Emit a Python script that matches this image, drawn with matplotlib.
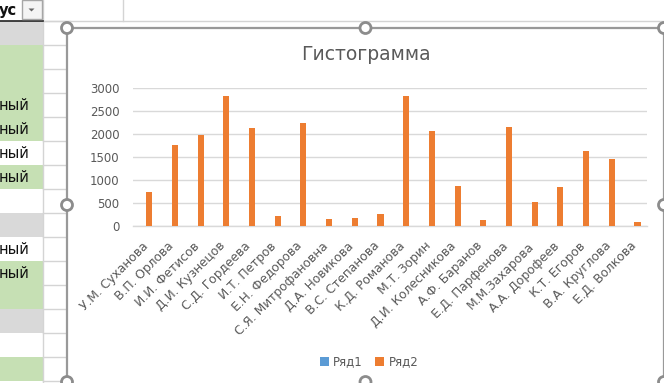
import numpy as np
import matplotlib
matplotlib.use('Agg')
import matplotlib.pyplot as plt
from matplotlib.patches import Rectangle, Circle, Polygon

# ---------------- data ----------------
categories = ['У.М. Суханова', 'В.П. Орлова', 'И.И. Фетисов', 'Д.И. Кузнецов',
              'С.Д. Гордеева', 'И.Т. Петров', 'Е.Н. Федорова', 'С.Я. Митрофановна',
              'Д.А. Новикова', 'В.С. Степанова', 'К.Д. Романова', 'М.Т. Зорин',
              'Д.И. Колесникова', 'А.Ф. Баранов', 'Е.Д. Парфенова', 'М.М.Захарова',
              'А.А. Дорофеев', 'К.Т. Егоров', 'В.А. Круглова', 'Е.Д. Волкова']
series1 = [0] * 20          # Ряд1 (empty)
series2 = [730, 1770, 1990, 2840, 2140, 225, 2250, 160, 180, 270,
           2840, 2070, 880, 140, 2160, 530, 860, 1640, 1470, 95]
series_names = ['Ряд1', 'Ряд2']
yticks = [0, 500, 1000, 1500, 2000, 2500, 3000]
title = 'Гистограмма'

# spreadsheet background (column A fills / texts)
sheet_fills = ['gray', 'green', 'green', 'green', 'green', 'white', 'green', 'white',
               'gray', 'white', 'green', 'green', 'gray', 'white', 'green', 'white']
sheet_texts = ['', '', '', 'ный', 'ный', 'ный', 'ный', '',
               '', 'ный', 'ный', '', '', '', '', '']
header_text = 'ус'

W, H = 664, 383
fig = plt.figure(figsize=(W / 100, H / 100), dpi=100)
fig.patch.set_facecolor('white')

# background axes in pixel coordinates
bg = fig.add_axes([0, 0, 1, 1])
bg.set_xlim(0, W)
bg.set_ylim(H, 0)
bg.axis('off')

fill_colors = {'gray': '#D9D9D9', 'green': '#C6E0B4', 'white': '#FFFFFF'}
grid_c = '#D4D4D4'
row_h = 24
top0 = 21
colA = 43
for i, (f, t) in enumerate(zip(sheet_fills, sheet_texts)):
    y0 = top0 + i * row_h
    bg.add_patch(Rectangle((0, y0), colA, row_h, facecolor=fill_colors[f],
                           edgecolor='none', zorder=1))
    if t:
        bg.text(29, y0 + row_h / 2 + 1, t, ha='right', va='center', fontsize=10.5,
                color='#111111', zorder=3)
    bg.plot([colA, 70], [y0, y0], color=grid_c, lw=1, zorder=2)
bg.plot([colA, colA], [0, H], color=grid_c, lw=1, zorder=2)
bg.plot([colA, W], [top0, top0], color=grid_c, lw=1, zorder=2)
bg.plot([123, 123], [0, top0], color=grid_c, lw=1, zorder=2)
bg.plot([0, colA], [top0 - 0.5, top0 - 0.5], color='#222222', lw=1.2, zorder=3)

# header
bg.text(17, 10.5, header_text, ha='right', va='center', fontsize=10.5,
        fontweight='bold', color='#111111', zorder=3)
bg.add_patch(Rectangle((21.5, 0), 20, 19, facecolor='#F4F4F4', edgecolor='#A6A6A6',
                       lw=1, zorder=3))
bg.add_patch(Polygon([[28.5, 8.5], [34.5, 8.5], [31.5, 11.5]], closed=True,
                     facecolor='#666666', edgecolor='none', zorder=4))

# chart area
cx0, cy0, cx1, cy1 = 67, 28, 664, 382
bg.add_patch(Rectangle((cx0, cy0), cx1 - cx0, cy1 - cy0, facecolor='white',
                       edgecolor='none', zorder=5))
bc = '#999999'
bg.plot([cx0, cx1], [cy0, cy0], color=bc, lw=1.6, zorder=6)
bg.plot([cx0, cx0], [cy0, cy1 + 5], color=bc, lw=1.6, zorder=6)
bg.plot([cx1, cx1], [cy0, cy1], color=bc, lw=1.6, zorder=6)
cmx, cmy = (cx0 + cx1) / 2, (cy0 + cy1) / 2
for (hx, hy) in [(cx0, cy0), (cmx, cy0), (cx1, cy0), (cx0, cmy), (cx1, cmy),
                 (cx0, cy1), (cmx, cy1), (cx1, cy1)]:
    bg.add_patch(Circle((hx, hy), 5.5, facecolor='white', edgecolor='#8C8C8C',
                        lw=2, zorder=7, clip_on=False))

# title
fig.text(366 / W, 1 - 54 / H, title, ha='center', va='center', fontsize=13.5,
         color='#595959')

# plot axes
px0, px1, py0, py1 = 133.3, 647.3, 88.3, 226.0
ax = fig.add_axes([px0 / W, 1 - py1 / H, (px1 - px0) / W, (py1 - py0) / H])
ax.patch.set_alpha(0)
ax.set_zorder(10)
x = np.arange(len(categories))
w = 0.237
ax.bar(x - w / 2, series1, width=w, color='#5B9BD5', label=series_names[0], zorder=3)
ax.bar(x + w / 2, series2, width=w, color='#ED7D31', label=series_names[1], zorder=3)
ax.set_xlim(-0.5, len(categories) - 0.5)
ax.set_ylim(0, 3000)
ax.set_yticks(yticks)
ax.set_yticklabels([str(v) for v in yticks])
ax.yaxis.grid(True, color='#D9D9D9', lw=1)
ax.set_axisbelow(True)
for s in ['top', 'right', 'left']:
    ax.spines[s].set_visible(False)
ax.spines['bottom'].set_color('#D9D9D9')
ax.spines['bottom'].set_linewidth(1)
ax.tick_params(axis='y', length=0, pad=10, labelsize=8.5, labelcolor='#595959')
ax.tick_params(axis='x', length=0, pad=13, labelsize=8.8, labelcolor='#595959')
ax.set_xticks(x)
ax.set_xticklabels(categories, rotation=45, ha='right', va='center',
                   rotation_mode='anchor')

leg = ax.legend(loc='center', bbox_to_anchor=(369 / W, 1 - 362 / H),
                bbox_transform=fig.transFigure, ncol=2, frameon=False,
                fontsize=8.5, handlelength=0.75, handleheight=0.75,
                handletextpad=0.35, columnspacing=1.1, labelcolor='#595959')

fig.savefig('out.png', dpi=100)
